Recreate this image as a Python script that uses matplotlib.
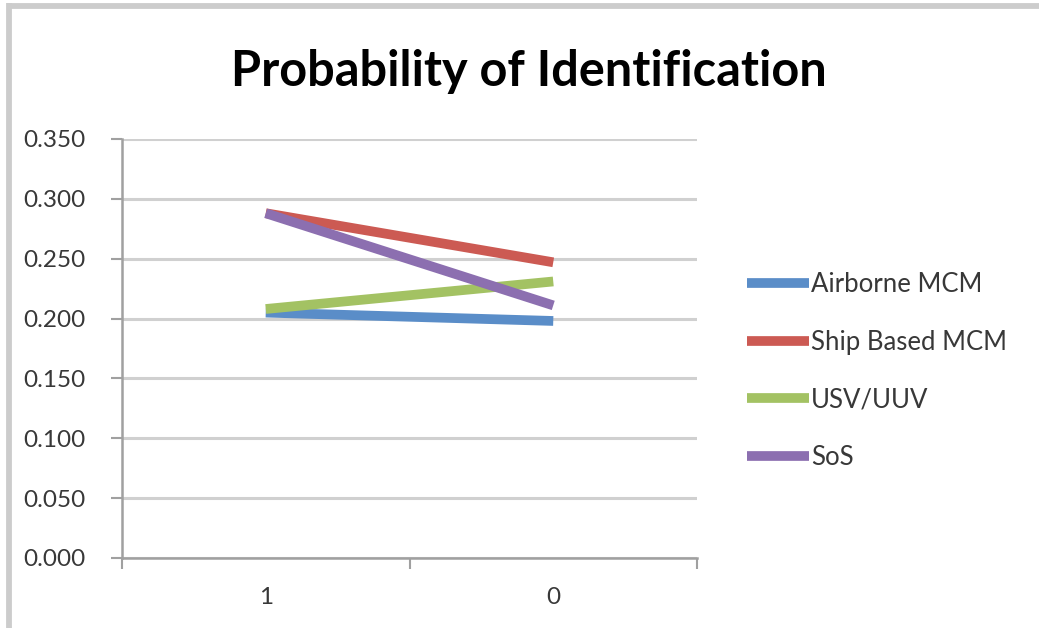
import matplotlib
matplotlib.use("Agg")
import matplotlib.pyplot as plt
from matplotlib.lines import Line2D
from matplotlib.ticker import MultipleLocator, FixedLocator, FormatStrFormatter

# Data
categories = ["1", "0"]
airborne_mcm = [0.205, 0.198]
ship_based_mcm = [0.288, 0.247]
usv_uuv = [0.208, 0.231]
sos = [0.288, 0.211]

series_names = ["Airborne MCM", "Ship Based MCM", "USV/UUV", "SoS"]
series_values = [airborne_mcm, ship_based_mcm, usv_uuv, sos]
series_colors = ["#5A8DC8", "#CC5A53", "#A3C263", "#8C6FB0"]

plt.rcParams["font.family"] = ["Lato", "DejaVu Sans"]

W, H = 1039, 628
fig = plt.figure(figsize=(W / 100, H / 100), dpi=100)
fig.patch.set_facecolor("white")

# Chart frame edges (top and left)
fig.add_artist(Line2D([9 / W, 1.0], [1 - 5.5 / H, 1 - 5.5 / H], transform=fig.transFigure,
                      color="#CCCCCC", linewidth=4.2, solid_capstyle="butt"))
fig.add_artist(Line2D([9 / W, 9 / W], [0.0, 1 - 3 / H], transform=fig.transFigure,
                      color="#CCCCCC", linewidth=4.2, solid_capstyle="butt"))

ax = fig.add_axes([122 / W, 1 - 558 / H, (697 - 122) / W, (558 - 139) / H])

x = list(range(len(categories)))
handles = []
for name, vals, col in zip(series_names, series_values, series_colors):
    h, = ax.plot(x, vals, color=col, linewidth=7, solid_capstyle="butt", label=name, zorder=3)
    handles.append(h)

ax.set_xlim(-0.5, len(categories) - 0.5)
ax.set_ylim(0, 0.35)
ax.yaxis.set_major_locator(MultipleLocator(0.05))
ax.yaxis.set_major_formatter(FormatStrFormatter("%.3f"))
ax.grid(axis="y", color="#D0D0D0", linewidth=2.2, zorder=0)
ax.set_axisbelow(True)

ax.set_xticks(x)
ax.set_xticklabels(categories)
ax.xaxis.set_minor_locator(FixedLocator([-0.5, 0.5, 1.5]))
ax.tick_params(axis="x", which="major", length=0, pad=21, labelsize=17.5, labelcolor="#383838")
ax.tick_params(axis="x", which="minor", length=8, width=1.5, color="#A0A0A0", direction="out")
ax.tick_params(axis="y", which="major", length=8, width=1.5, color="#A0A0A0",
               labelsize=17.5, labelcolor="#383838", pad=18)

for s in ["top", "right"]:
    ax.spines[s].set_visible(False)
for s in ["left", "bottom"]:
    ax.spines[s].set_color("#A0A0A0")
    ax.spines[s].set_linewidth(1.8)

fig.text(529 / W, 1 - 72 / H, "Probability of Identification", ha="center", va="center",
         fontsize=35, fontweight="bold", color="#000000")

leg = fig.legend(handles=handles, labels=series_names, loc="center left",
                 bbox_to_anchor=(724 / W, 1 - 371 / H), frameon=False,
                 fontsize=18.5, handlelength=2.4, handletextpad=0.1, labelspacing=1.27,
                 labelcolor="#383838")

fig.savefig("out.png", dpi=100, facecolor="white")
